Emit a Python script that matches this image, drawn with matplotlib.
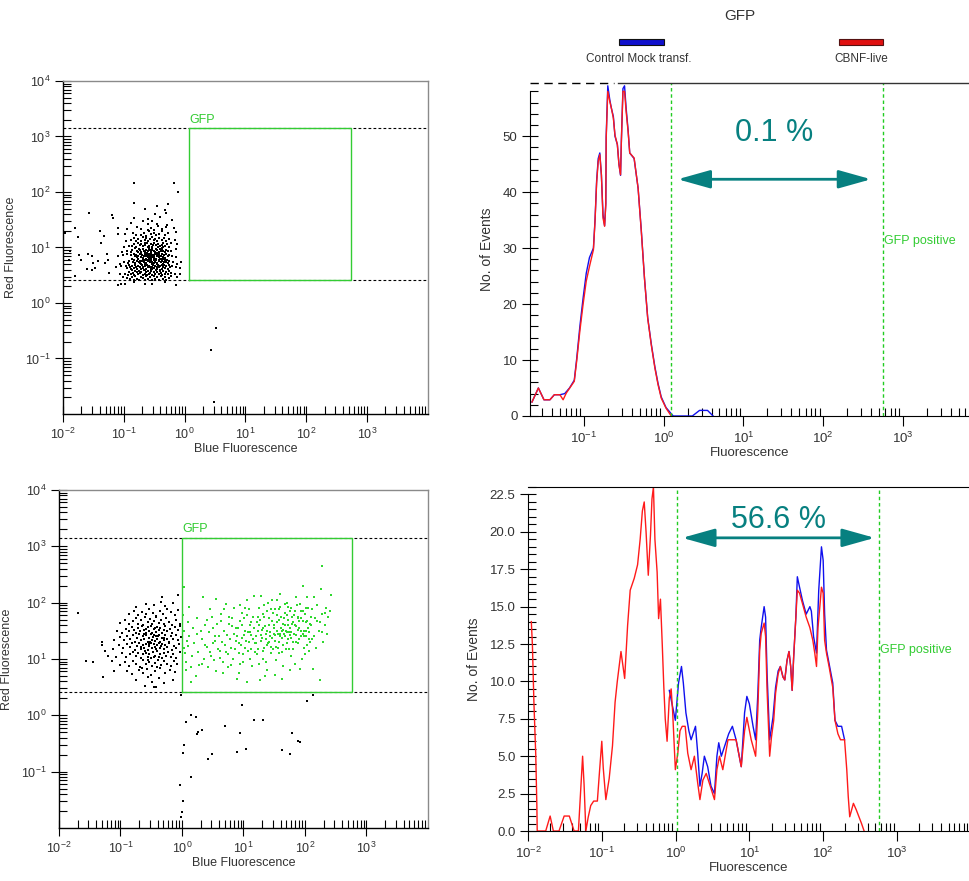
import numpy as np
import matplotlib
matplotlib.use("Agg")
import matplotlib.pyplot as plt
from matplotlib.ticker import LogLocator, FuncFormatter, MultipleLocator, FormatStrFormatter, NullFormatter
from matplotlib.patches import Rectangle

plt.rcParams['font.family'] = ['Liberation Sans', 'DejaVu Sans']
plt.rcParams['mathtext.fontset'] = 'custom'
plt.rcParams['mathtext.rm'] = 'Liberation Sans'
plt.rcParams['mathtext.it'] = 'Liberation Sans:italic'

W, H = 970, 881
GREEN = '#33cc33'
DOTGREEN = '#2fd82f'
TEAL = '#078080'
TXT = '#333333'

# ---- scatter data, log10 coordinates in hundredths (x, y) ----
# top: control mock transfection
tl_pts = [
    (-110, 32), (-98, 35), (-66, 34), (-15, 33), (-104, 35), (-84, 37), (-53, 34), (-33, 38),
    (-102, 47), (-95, 45), (-90, 43), (-87, 46), (-84, 41), (-81, 48), (-78, 44),
    (-75, 42), (-72, 47), (-69, 45), (-66, 41), (-63, 49), (-60, 44), (-57, 46), (-54, 42), (-51, 48), (-48, 43),
    (-45, 46), (-42, 41), (-39, 49), (-36, 44), (-33, 47), (-30, 42), (-26, 45), (-22, 48), (-12, 46),
    (-106, 52), (-98, 53), (-93, 51), (-91, 56), (-89, 53), (-87, 59), (-85, 54),
    (-83, 51), (-81, 57), (-79, 55), (-77, 52), (-75, 58), (-73, 54), (-71, 56), (-69, 51), (-67, 59), (-65, 53),
    (-63, 55), (-61, 57), (-59, 52), (-57, 54), (-55, 58), (-53, 51), (-51, 56), (-49, 53), (-47, 59), (-45, 55),
    (-43, 52), (-41, 57), (-39, 54), (-37, 51), (-35, 58), (-33, 53), (-31, 56), (-28, 52), (-25, 57), (-22, 54),
    (-16, 52), (-8, 53), (-62, 50),
    (-113, 65), (-104, 67), (-97, 66), (-95, 63), (-92, 68), (-90, 64), (-88, 61), (-86, 67),
    (-84, 63), (-82, 69), (-80, 65), (-78, 62), (-76, 67), (-74, 64), (-72, 61), (-70, 68), (-68, 63), (-66, 66),
    (-64, 61), (-62, 69), (-60, 64), (-58, 67), (-56, 62), (-54, 65), (-52, 68), (-50, 63), (-48, 66), (-46, 61),
    (-44, 69), (-42, 64), (-40, 67), (-38, 62), (-36, 65), (-34, 68), (-32, 63), (-30, 66), (-28, 61), (-26, 69),
    (-24, 64), (-21, 67), (-15, 65), (-7, 63), (-65, 60), (-57, 64), (-49, 67), (-41, 60),
    (-53, 62), (-61, 66), (-69, 65), (-45, 64), (-37, 68),
    (-107, 71), (-99, 73), (-93, 72), (-91, 76), (-87, 79), (-85, 74),
    (-83, 77), (-81, 72), (-79, 75), (-77, 79), (-75, 73), (-73, 76), (-71, 71), (-69, 78), (-67, 74), (-65, 77),
    (-63, 72), (-61, 75), (-59, 79), (-57, 73), (-55, 76), (-53, 71), (-51, 78), (-49, 74), (-47, 77), (-45, 72),
    (-43, 75), (-41, 79), (-39, 73), (-37, 76), (-35, 71), (-33, 78), (-31, 74), (-29, 77), (-27, 72), (-25, 75),
    (-19, 73), (-13, 71), (-6, 74), (-66, 70), (-58, 75), (-50, 72), (-42, 77),
    (-34, 73), (-62, 78), (-54, 74), (-46, 70), (-38, 79), (-70, 75), (-74, 72), (-30, 76), (-56, 79), (-48, 76),
    (-110, 84), (-101, 87), (-94, 88), (-88, 86), (-84, 89), (-82, 84),
    (-80, 87), (-78, 82), (-76, 85), (-74, 89), (-72, 83), (-70, 86), (-68, 81), (-66, 88), (-64, 84), (-62, 87),
    (-60, 82), (-58, 85), (-56, 89), (-54, 83), (-52, 86), (-50, 81), (-48, 88), (-46, 84), (-44, 87), (-42, 82),
    (-40, 85), (-38, 89), (-36, 83), (-34, 86), (-32, 81), (-30, 88), (-28, 84), (-26, 87), (-20, 85),
    (-14, 83), (-63, 80), (-55, 85), (-47, 80), (-39, 84), (-59, 88), (-51, 84), (-43, 89),
    (-67, 85), (-35, 80), (-71, 88), (-57, 81), (-45, 86),
    (-103, 92), (-95, 93), (-89, 91), (-86, 96), (-81, 99), (-79, 94),
    (-77, 91), (-75, 97), (-73, 95), (-71, 92), (-69, 98), (-67, 94), (-65, 91), (-63, 96), (-61, 93), (-59, 99),
    (-57, 95), (-55, 92), (-53, 97), (-51, 94), (-49, 91), (-47, 98), (-45, 95), (-43, 92), (-41, 97), (-39, 93),
    (-37, 99), (-35, 94), (-33, 91), (-31, 96), (-28, 93), (-22, 94), (-15, 97),
    (-62, 90), (-54, 95), (-46, 90), (-38, 96), (-58, 97),
    (-100, 101), (-92, 103), (-86, 102), (-83, 106), (-80, 101), (-77, 109),
    (-74, 104), (-71, 107), (-68, 102), (-65, 105), (-62, 109), (-59, 103), (-56, 106), (-53, 101), (-50, 108),
    (-47, 104), (-44, 107), (-41, 102), (-38, 105), (-35, 109), (-32, 103), (-29, 106), (-26, 101), (-22, 108),
    (-13, 107), (-60, 100), (-52, 105), (-44, 100), (-66, 108), (-36, 101),
    (-97, 111), (-88, 113), (-84, 118), (-80, 112), (-76, 116), (-72, 111), (-69, 119),
    (-66, 114), (-63, 117), (-60, 112), (-57, 115), (-54, 119), (-51, 113), (-48, 116), (-45, 111), (-42, 118),
    (-38, 114), (-34, 117), (-30, 112), (-26, 115), (-16, 113),
    (-98, 124), (-85, 127), (-80, 123), (-71, 122), (-67, 126), (-63, 121), (-59, 129),
    (-55, 124), (-51, 127), (-47, 122), (-43, 125), (-38, 129), (-33, 123), (-28, 126), (-14, 128),
    (-95, 134), (-79, 137), (-72, 133), (-61, 132), (-56, 136), (-50, 131), (-44, 139),
    (-38, 134), (-31, 137), (-17, 135),
    (-88, 144), (-68, 147), (-60, 143), (-53, 148), (-45, 142), (-29, 141), (-20, 149),
    (-83, 153), (-60, 152), (-49, 161), (-40, 155), (-30, 163),
    (-66, 170), (-45, 175), (-32, 168), (-27, 179), (-84, 180),
    (-84, 216), (-18, 216), (-11, 200),
    (-196, 127), (-180, 135), (-175, 119), (-158, 163), (-174, 86), (-170, 78), (-159, 89), (-152, 84), (-160, 61),
    (-150, 72), (-147, 63), (-142, 75), (-138, 108), (-133, 120), (-128, 89), (-139, 130), (-119, 159), (-118, 153),
    (-181, 48), (-190, 78), (-189, 93), (-131, 72), (-126, 78), (-124, 54), (-152, 60), (-110, 136), (-110, 124),
    (43, -85), (51, -45), (48, -178),
]

# bottom: CBNF-live, cells outside the GFP gate
bl_black = [
    (-60, 52), (-43, 50), (-75, 63), (-48, 60), (-30, 58), (-55, 68), (-38, 66), (-14, 62),
    (-90, 78), (-82, 73), (-70, 80), (-63, 76), (-57, 83), (-50, 72), (-44, 79), (-36, 84), (-28, 75), (-20, 81),
    (-65, 84), (-12, 77),
    (-100, 90), (-92, 95), (-86, 88), (-80, 97), (-74, 92), (-69, 86), (-64, 98), (-59, 91), (-54, 95), (-49, 87),
    (-44, 93), (-39, 99), (-34, 89), (-29, 96), (-24, 92), (-18, 87), (-13, 97), (-8, 91), (-56, 99), (-40, 85),
    (-108, 104), (-98, 110), (-91, 103), (-85, 108), (-80, 113), (-75, 105), (-71, 111), (-67, 102), (-63, 108),
    (-60, 114), (-56, 104), (-53, 109), (-50, 101), (-47, 112), (-44, 106), (-41, 114), (-38, 103), (-35, 109),
    (-32, 101), (-29, 111), (-26, 106), (-22, 113), (-18, 104), (-14, 109), (-9, 102), (-4, 112), (-58, 111), (-46, 103),
    (-112, 118), (-103, 124), (-96, 119), (-90, 127), (-85, 121), (-81, 128), (-77, 116), (-73, 123), (-70, 129),
    (-67, 118), (-64, 125), (-61, 120), (-58, 127), (-56, 116), (-53, 123), (-51, 129), (-48, 119), (-46, 126),
    (-43, 117), (-41, 124), (-38, 129), (-36, 120), (-33, 127), (-30, 118), (-27, 125), (-24, 121), (-21, 128),
    (-17, 116), (-13, 123), (-9, 119), (-5, 126), (-66, 122), (-54, 126), (-44, 121), (-34, 123),
    (-110, 133), (-101, 139), (-94, 134), (-89, 141), (-84, 136), (-80, 143), (-76, 131), (-73, 138), (-70, 144),
    (-67, 133), (-64, 140), (-61, 135), (-59, 142), (-56, 131), (-54, 137), (-51, 144), (-49, 134), (-47, 139),
    (-44, 132), (-42, 141), (-40, 136), (-37, 143), (-35, 131), (-32, 138), (-30, 134), (-27, 142), (-24, 136),
    (-21, 131), (-18, 140), (-14, 135), (-10, 143), (-6, 133), (-2, 139), (-62, 144), (-52, 130), (-46, 143),
    (-39, 140), (-29, 137),
    (-106, 150), (-97, 147), (-91, 154), (-86, 149), (-82, 157), (-78, 151), (-74, 146), (-71, 155), (-68, 149),
    (-65, 158), (-62, 152), (-59, 147), (-56, 156), (-54, 150), (-51, 159), (-48, 146), (-46, 153), (-43, 148),
    (-41, 157), (-38, 151), (-35, 155), (-33, 146), (-30, 152), (-27, 158), (-24, 149), (-20, 154), (-16, 147),
    (-12, 156), (-7, 151), (-3, 158), (-58, 153), (-44, 155),
    (-100, 164), (-92, 170), (-86, 162), (-80, 168), (-75, 173), (-71, 163), (-67, 169), (-63, 161), (-60, 174),
    (-56, 166), (-52, 171), (-49, 162), (-45, 168), (-42, 174), (-38, 164), (-34, 170), (-30, 162), (-26, 172),
    (-21, 166), (-16, 161), (-10, 169), (-4, 163),
    (-86, 180), (-78, 186), (-72, 178), (-65, 184), (-59, 179), (-53, 188), (-47, 181), (-43, 177), (-36, 186),
    (-31, 180), (-25, 189), (-18, 183), (-11, 178), (-6, 187),
    (-74, 193), (-58, 198), (-45, 195), (-34, 202), (-28, 194), (-15, 200), (-6, 213),
    (-169, 181), (-156, 97), (-144, 95), (-128, 68), (-130, 130), (-130, 125), (-114, 96), (-110, 78), (-120, 105),
    (-125, 115), (-32, 210), (-45, 50),
    # below the gate
    (-1, 36), (15, 0), (23, -3), (7, -12), (32, -26), (26, -30), (24, -34), (4, -52), (2, -67), (49, -69),
    (42, -77), (70, -19), (98, 18), (94, -32), (89, -65), (104, -60), (117, -9), (131, -8), (162, -62), (176, -68),
    (179, -32), (189, -45), (192, -47), (204, 26), (213, 36), (15, -110), (-4, -123), (2, -152), (0, -171), (-1, -181),
]

# bottom: CBNF-live, cells inside the GFP gate
bl_green = [
    (2, 178), (4, 120), (3, 150), (6, 95), (8, 132), (5, 110), (10, 165), (12, 140), (14, 85), (9, 123), (16, 105),
    (18, 155), (20, 128), (22, 70), (24, 145), (26, 112), (28, 90), (15, 60), (3, 228), (12, 192), (25, 172), (7, 80),
    (32, 135), (34, 210), (36, 100), (38, 160), (40, 122), (42, 85), (44, 148), (46, 113), (48, 175), (50, 128),
    (52, 98), (54, 140), (56, 207), (58, 118), (31, 150), (33, 92), (45, 188), (51, 155), (55, 78), (37, 125),
    (41, 170), (47, 105), (53, 132), (57, 162),
    (60, 140), (62, 115), (64, 180), (66, 95), (68, 150), (70, 125), (72, 198), (74, 108), (76, 162), (78, 135),
    (80, 90), (82, 172), (84, 145), (86, 118), (88, 155), (61, 102), (63, 168), (65, 130), (67, 75), (69, 188),
    (71, 112), (73, 143), (75, 85), (77, 175), (79, 120), (81, 158), (83, 100), (85, 190), (87, 132), (89, 65),
    (90, 140), (92, 110), (94, 168), (96, 125), (98, 182), (100, 95), (102, 150), (104, 132), (106, 205), (108, 115),
    (110, 160), (112, 142), (114, 88), (116, 175), (118, 128), (91, 155), (93, 75), (95, 195), (97, 138), (99, 108),
    (101, 172), (103, 120), (105, 60), (107, 148), (109, 188), (111, 100), (113, 165), (115, 135), (117, 212),
    (119, 112), (93, 128), (97, 160), (101, 143), (105, 178), (109, 130), (113, 118), (117, 155), (95, 92),
    (103, 190), (111, 148),
    (120, 140), (122, 165), (124, 118), (126, 190), (128, 132), (130, 152), (132, 100), (134, 175), (136, 145),
    (138, 125), (140, 200), (142, 160), (144, 110), (146, 138), (148, 182), (121, 128), (123, 150), (125, 92),
    (127, 170), (129, 142), (131, 115), (133, 195), (135, 158), (137, 135), (139, 80), (141, 172), (143, 148),
    (145, 122), (147, 205), (149, 155), (122, 108), (126, 160), (130, 138), (134, 120), (138, 185), (142, 130),
    (146, 168), (150, 145), (124, 175), (128, 212), (132, 155), (136, 95), (140, 128), (144, 188), (148, 118),
    (127, 62), (135, 70), (143, 140), (131, 180), (139, 150),
    (150, 160), (152, 132), (154, 178), (156, 145), (158, 110), (160, 192), (162, 150), (164, 125), (166, 172),
    (168, 140), (170, 200), (172, 160), (174, 118), (176, 185), (178, 148), (151, 142), (153, 98), (155, 165),
    (157, 130), (159, 215), (161, 155), (163, 138), (165, 88), (167, 182), (169, 150), (171, 128), (173, 170),
    (175, 142), (177, 105), (179, 162), (152, 188), (156, 120), (160, 140), (164, 162), (168, 198), (172, 135),
    (176, 155), (180, 130), (154, 150), (158, 170), (162, 112), (166, 145), (170, 178), (174, 148), (178, 190),
    (151, 72), (163, 65), (175, 80), (157, 188), (169, 118), (161, 175), (165, 152), (173, 192), (177, 138),
    (153, 122), (159, 145), (167, 160), (171, 148), (179, 175), (155, 205),
    (180, 165), (182, 145), (184, 185), (186, 130), (188, 172), (190, 155), (192, 198), (194, 140), (196, 168),
    (198, 120), (200, 180), (202, 150), (204, 210), (206, 135), (208, 162), (181, 118), (183, 160), (185, 142),
    (187, 195), (189, 128), (191, 168), (193, 150), (195, 100), (197, 185), (199, 140), (201, 165), (203, 125),
    (205, 190), (207, 148), (209, 175), (182, 178), (186, 158), (190, 135), (194, 172), (198, 150), (202, 190),
    (206, 115), (184, 92), (192, 82), (200, 108), (188, 152), (196, 145), (204, 168), (208, 130), (185, 210),
    (193, 185), (201, 140), (197, 230), (189, 175), (205, 155),
    (210, 160), (212, 188), (214, 140), (216, 172), (218, 120), (220, 195), (222, 150), (224, 165), (226, 225),
    (228, 180), (230, 130), (232, 160), (234, 190), (236, 145), (238, 175), (213, 82), (225, 63), (240, 185),
    (243, 213), (233, 182), (211, 135), (219, 168), (227, 148), (228, 265), (215, 210),
]

# ---- histogram data: (log10 fluorescence, no. of events) ----
top_red = [
    (-1.65, 2.5), (-1.57, 5.0), (-1.50, 2.9), (-1.425, 2.9), (-1.37, 3.8), (-1.30, 3.8), (-1.26, 2.9), (-1.22, 4.1),
    (-1.12, 6.2), (-1.09, 9.8), (-1.05, 15.2), (-1.01, 19.9), (-0.97, 24.1), (-0.925, 27), (-0.88, 29.7),
    (-0.86, 34.8), (-0.84, 41.6), (-0.82, 45.5), (-0.80, 46.7), (-0.78, 43.1), (-0.76, 35.4), (-0.74, 33.9),
    (-0.725, 37.7), (-0.72, 49.6), (-0.70, 58), (-0.675, 56.2), (-0.655, 55), (-0.63, 53.2), (-0.61, 50.2),
    (-0.58, 48.5), (-0.56, 44.9), (-0.54, 43.1), (-0.53, 49), (-0.51, 58), (-0.49, 58), (-0.47, 54.4),
    (-0.445, 50.8), (-0.425, 47), (-0.37, 46.1), (-0.32, 40.7), (-0.28, 33), (-0.24, 24.6), (-0.20, 17.5),
    (-0.155, 12.7), (-0.11, 8.6), (-0.07, 5.6), (-0.03, 3.2), (0.03, 1.4), (0.095, 0),
]
top_blue = [
    (-1.65, 2.5), (-1.57, 5.0), (-1.50, 2.9), (-1.425, 2.9), (-1.37, 3.8), (-1.30, 3.8), (-1.24, 4.0), (-1.18, 5.0),
    (-1.12, 6.4), (-1.09, 10.2), (-1.05, 16), (-1.01, 21), (-0.97, 25.5), (-0.93, 28.3), (-0.88, 30),
    (-0.86, 35), (-0.84, 42), (-0.82, 46), (-0.80, 47), (-0.78, 43), (-0.76, 36), (-0.74, 34), (-0.725, 38),
    (-0.72, 50), (-0.70, 59), (-0.675, 56.5), (-0.655, 55), (-0.63, 53.5), (-0.61, 50), (-0.58, 48.5), (-0.56, 45),
    (-0.54, 43), (-0.53, 49), (-0.51, 58.5), (-0.49, 59), (-0.47, 55), (-0.445, 51), (-0.425, 47), (-0.37, 46),
    (-0.32, 40.7), (-0.28, 33.2), (-0.24, 24.6), (-0.20, 17.6), (-0.155, 12.9), (-0.11, 8.8), (-0.07, 5.8),
    (-0.03, 3.4), (0.03, 1.5), (0.12, 0), (0.36, 0), (0.45, 1), (0.55, 1), (0.62, 0),
]
bot_red = [
    (-1.955, 14.0), (-1.94, 12.4), (-1.92, 8.6), (-1.895, 5.1), (-1.88, 1.7), (-1.875, 0), (-1.76, 0), (-1.70, 1.0),
    (-1.656, 0), (-1.58, 0), (-1.51, 1.0), (-1.44, 1.0), (-1.375, 0), (-1.317, 0), (-1.26, 5.0), (-1.24, 3.1),
    (-1.216, 0), (-1.185, 0.9), (-1.15, 1.7), (-1.11, 2.0), (-1.06, 2.0), (-1.035, 3.7), (-1.0, 6.0), (-0.98, 4.2),
    (-0.945, 2.1), (-0.90, 3.5), (-0.855, 5.7), (-0.82, 8.6), (-0.79, 10.0), (-0.74, 12.0), (-0.715, 11.1),
    (-0.69, 10.2), (-0.65, 13.75), (-0.615, 16.1), (-0.56, 16.9), (-0.515, 17.8), (-0.48, 19.5), (-0.45, 21.4),
    (-0.425, 22.0), (-0.40, 20.0), (-0.37, 17.1), (-0.34, 19.8), (-0.32, 22.2), (-0.30, 23.0), (-0.28, 19.5),
    (-0.25, 17.3), (-0.23, 14.2), (-0.205, 15.5), (-0.18, 12.4), (-0.16, 9.7), (-0.14, 7.5), (-0.115, 6.0),
    (-0.085, 8.9), (-0.06, 9.5), (-0.04, 8.0), (-0.003, 4.1), (0.03, 5.2), (0.06, 6.7), (0.09, 7.0), (0.13, 7.0),
    (0.165, 5.2), (0.21, 4.1), (0.255, 5.0), (0.30, 3.2), (0.33, 2.1), (0.37, 3.4), (0.415, 3.85), (0.47, 3.0),
    (0.527, 2.1), (0.56, 4.1), (0.595, 5.0), (0.64, 4.1), (0.71, 6.1), (0.82, 6.1), (0.89, 4.3), (0.935, 6.7),
    (0.966, 7.6), (1.025, 6.1), (1.085, 5.0), (1.115, 8.1), (1.14, 12.1), (1.16, 13.2), (1.20, 13.9), (1.22, 13.0),
    (1.24, 9.4), (1.275, 5.0), (1.30, 6.3), (1.33, 7.4), (1.355, 9.2), (1.39, 10.5), (1.42, 11.0), (1.455, 10.3),
    (1.48, 10.1), (1.51, 11.4), (1.537, 12.0), (1.56, 11.0), (1.58, 9.4), (1.60, 11.6), (1.63, 14.3), (1.65, 16.1),
    (1.68, 15.9), (1.72, 15.2), (1.77, 14.3), (1.82, 13.6), (1.86, 12.75), (1.886, 11.9), (1.91, 11.0), (1.93, 13.6),
    (1.955, 15.0), (1.977, 16.3), (2.0, 15.9), (2.02, 12.75), (2.045, 11.9), (2.08, 11.0), (2.13, 9.6), (2.16, 7.4),
    (2.20, 6.5), (2.235, 6.1), (2.29, 6.1), (2.32, 4.1), (2.34, 2.3), (2.36, 0.95), (2.41, 1.85), (2.45, 1.4),
    (2.52, 0.5), (2.555, 0),
]
bot_blue = [
    (-0.085, 9.4), (-0.04, 8.3), (-0.003, 7.4), (0.04, 9.9), (0.08, 11.0), (0.105, 9.9), (0.14, 7.9), (0.18, 6.7),
    (0.21, 6.1), (0.27, 7.0), (0.30, 5.2), (0.33, 3.0), (0.36, 3.85), (0.39, 5.0), (0.435, 4.3), (0.48, 3.0),
    (0.527, 2.5), (0.56, 5.0), (0.585, 5.9), (0.62, 5.0), (0.66, 5.6), (0.72, 6.5), (0.77, 7.0), (0.82, 6.1),
    (0.89, 4.3), (0.935, 7.9), (0.966, 9.0), (1.0, 8.5), (1.05, 7.0), (1.085, 6.1), (1.115, 9.2), (1.14, 12.75),
    (1.16, 13.6), (1.20, 15.0), (1.22, 14.3), (1.24, 10.5), (1.275, 6.1), (1.32, 7.6), (1.355, 9.6), (1.39, 10.7),
    (1.42, 11.0), (1.455, 10.3), (1.48, 10.1), (1.51, 11.4), (1.537, 12.0), (1.56, 11.0), (1.58, 9.4), (1.60, 11.6),
    (1.63, 14.3), (1.65, 17.0), (1.68, 16.3), (1.72, 15.4), (1.77, 14.5), (1.82, 15.0), (1.84, 14.7), (1.87, 13.0),
    (1.91, 11.9), (1.94, 16.1), (1.977, 19.0), (2.0, 18.1), (2.02, 14.5), (2.045, 12.1), (2.08, 11.2), (2.13, 9.9),
    (2.16, 7.4), (2.20, 7.0), (2.25, 7.0), (2.29, 6.1),
]

pct_top = "0.1 %"
pct_bot = "56.6 %"
legend_names = ["Control Mock transf.", "CBNF-live"]


def box(x0, y0, x1, y1):
    return [x0 / W, 1 - y1 / H, (x1 - x0) / W, (y1 - y0) / H]


def decade_fmt(v, pos):
    return r'$10^{%d}$' % int(round(np.log10(v)))


fig = plt.figure(figsize=(W / 100, H / 100), dpi=100)


def scatter_panel(ax, black, green, gate):
    ax.set_xscale('log')
    ax.set_yscale('log')
    ax.set_xlim(1e-2, 1e4)
    ax.set_ylim(1e-2, 1e4)
    pb = np.array(black) / 100.0
    ax.plot(10 ** pb[:, 0], 10 ** pb[:, 1], 's', ms=1.5, mew=0, color='k')
    if green:
        pg = np.array(green) / 100.0
        ax.plot(10 ** pg[:, 0], 10 ** pg[:, 1], 's', ms=1.8, mew=0, color=DOTGREEN)
    x0, x1, y0, y1 = gate
    ax.axhline(y0, color='k', lw=0.8, ls=(0, (2.5, 2)))
    ax.axhline(y1, color='k', lw=0.8, ls=(0, (2.5, 2)))
    ax.plot([x0, x1, x1, x0, x0], [y0, y0, y1, y1, y0], color=GREEN, lw=1.0)
    ax.text(x0, y1 * 1.12, 'GFP', color=GREEN, fontsize=9, va='bottom', ha='left')
    ax.set_xticks([1e-2, 1e-1, 1e0, 1e1, 1e2, 1e3])
    ax.set_yticks([1e-1, 1e0, 1e1, 1e2, 1e3, 1e4])
    ax.xaxis.set_major_formatter(FuncFormatter(decade_fmt))
    ax.yaxis.set_major_formatter(FuncFormatter(decade_fmt))
    ax.xaxis.set_minor_locator(LogLocator(base=10, subs=np.arange(2, 10), numticks=100))
    ax.yaxis.set_minor_locator(LogLocator(base=10, subs=np.arange(2, 10), numticks=100))
    ax.xaxis.set_minor_formatter(NullFormatter())
    ax.yaxis.set_minor_formatter(NullFormatter())
    ax.tick_params(which='major', direction='inout', length=11, width=0.8, labelsize=9, labelcolor=TXT)
    ax.tick_params(which='minor', direction='in', length=6, width=0.8)
    ax.set_xlabel('Blue Fluorescence', fontsize=9, color=TXT, labelpad=1)
    ax.set_ylabel('Red Fluorescence', fontsize=9, color=TXT, labelpad=6)
    for s in ['top', 'right']:
        ax.spines[s].set_color('#8a8a8a')
    for s in ax.spines.values():
        s.set_linewidth(1.0)


def hist_panel(ax, red, blue, xlim, ylim, gates, arrow, pct, pct_y, gfp_y):
    ax.set_xscale('log')
    ax.set_xlim(*xlim)
    ax.set_ylim(*ylim)
    b = np.array(blue)
    r = np.array(red)
    ax.plot(10 ** b[:, 0], b[:, 1], color='#1010ee', lw=1.0)
    ax.plot(10 ** r[:, 0], r[:, 1], color='#ff1a1a', lw=1.0)
    for g in gates:
        ax.axvline(g, color='#22cc22', lw=1.0, ls=(0, (2.5, 2)))
    ax.text(gates[1] * 1.02, gfp_y, 'GFP positive', color=GREEN, fontsize=9, va='center', ha='left')
    xa, xb, ya = arrow
    ax.annotate('', xy=(xb, ya), xytext=(xa, ya),
                arrowprops=dict(arrowstyle='<|-|>,head_length=1.0,head_width=0.28',
                                mutation_scale=20, color=TEAL, lw=2.0, shrinkA=0, shrinkB=0))
    ax.text(np.sqrt(xa * xb), pct_y, pct, color=TEAL, fontsize=22, ha='center', va='center')
    ax.xaxis.set_major_locator(LogLocator(base=10, numticks=20))
    ax.xaxis.set_major_formatter(FuncFormatter(decade_fmt))
    ax.xaxis.set_minor_locator(LogLocator(base=10, subs=np.arange(2, 10), numticks=100))
    ax.xaxis.set_minor_formatter(NullFormatter())
    ax.tick_params(axis='x', which='major', direction='out', length=7, width=0.8, labelsize=9.5, labelcolor=TXT)
    ax.tick_params(axis='x', which='minor', direction='in', length=6, width=0.8)
    ax.tick_params(axis='y', which='major', direction='inout', length=11, width=0.8, labelsize=9.5, labelcolor=TXT)
    ax.tick_params(axis='y', which='minor', direction='in', length=6, width=0.8)
    ax.set_xlabel('Fluorescence', fontsize=9.5, color=TXT, labelpad=1)
    ax.set_ylabel('No. of Events', fontsize=10, color=TXT, labelpad=6)
    ax.spines['right'].set_visible(False)


ax_tl = fig.add_axes(box(63, 81, 428, 414))
scatter_panel(ax_tl, tl_pts, None, (1.2, 550, 2.6, 1400))

ax_bl = fig.add_axes(box(59, 490, 428, 828))
scatter_panel(ax_bl, bl_black, bl_green, (1.0, 590, 2.6, 1400))

ax_tr = fig.add_axes(box(530, 83, 970, 416))
hist_panel(ax_tr, top_red, top_blue, (10 ** -1.675, 10 ** 3.84), (0, 59.5),
           (1.22, 560), (1.5, 398, 42.3), pct_top, 50.5, 31.3)
ax_tr.yaxis.set_major_locator(MultipleLocator(10))
ax_tr.yaxis.set_minor_locator(MultipleLocator(2))
ax_tr.spines['left'].set_bounds(0, 58)
ax_tr.spines['top'].set_visible(False)
ax_tr.plot([0, 0.19], [1, 1], transform=ax_tr.transAxes, color='k', lw=1.0, ls=(0, (6, 4)), clip_on=False)
ax_tr.plot([0.2, 1], [1, 1], transform=ax_tr.transAxes, color='#333333', lw=1.0, clip_on=False)

ax_br = fig.add_axes(box(528, 487, 970, 831))
hist_panel(ax_br, bot_red, bot_blue, (1e-2, 10 ** 3.99), (0, 23),
           (1.03, 575), (1.23, 500, 19.6), pct_bot, 20.8, 12.1)
ax_br.yaxis.set_major_locator(MultipleLocator(2.5))
ax_br.yaxis.set_minor_locator(MultipleLocator(0.5))
ax_br.yaxis.set_major_formatter(FormatStrFormatter('%.1f'))
ax_br.spines['left'].set_bounds(0, 22.5)

# title and legend above the histograms
fig.text(740 / W, 1 - 16 / H, 'GFP', fontsize=11, color=TXT, ha='center', va='center')
fig.patches.append(Rectangle((619 / W, 1 - 45 / H), 45 / W, 6 / H, transform=fig.transFigure,
                             facecolor='#1010cc', edgecolor='#111111', lw=0.8))
fig.patches.append(Rectangle((839 / W, 1 - 45 / H), 44 / W, 6 / H, transform=fig.transFigure,
                             facecolor='#e01010', edgecolor='#551111', lw=0.8))
fig.text(639 / W, 1 - 59 / H, legend_names[0], fontsize=8.5, color=TXT, ha='center', va='center')
fig.text(861 / W, 1 - 59 / H, legend_names[1], fontsize=8.5, color=TXT, ha='center', va='center')

fig.savefig('out.png', dpi=100)
